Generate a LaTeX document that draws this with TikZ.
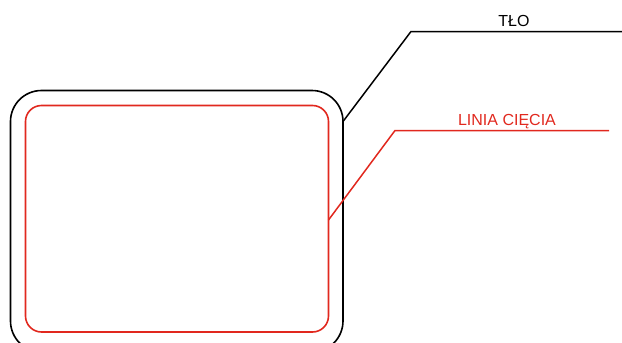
\documentclass[tikz,border=0pt]{standalone}
\usepackage{fontspec}
\setmainfont{Liberation Sans}
\definecolor{cutred}{RGB}{225,40,30}
\begin{document}
\begin{tikzpicture}[x=1pt,y=-1pt,
  outline/.style={draw=black,line width=1.6pt},
  cutline/.style={draw=cutred,line width=1.6pt},
  leaderblack/.style={draw=black,line width=1.5pt},
  leaderred/.style={draw=cutred,line width=1.5pt},
  lbl/.style={font=\fontsize{16}{19}\selectfont,inner sep=0pt,anchor=base}]
\useasboundingbox (0,0) rectangle (622,343);
\begin{scope}
\clip (0,0) rectangle (622,343);
\draw[outline,rounded corners=31pt] (10.5,90.5) rectangle (343,352);
\end{scope}
\draw[cutline,rounded corners=16pt] (25.5,105.5) rectangle (328.5,332);
% leaders
\coordinate (b0) at (343,121.5);
\coordinate (b1) at (411,31.5);
\coordinate (b2) at (622,31.5);
\coordinate (r0) at (328.5,220);
\coordinate (r1) at (395,130.5);
\coordinate (r2) at (609,130.5);
\draw[leaderblack] (b0) -- (b1) -- (b2);
\draw[leaderred] (r0) -- (r1) -- (r2);
\node[lbl] (tlo) at (514,26.5) {TŁO};
\node[lbl,text=cutred] (linia) at (507,125) {LINIA CIĘCIA};
\end{tikzpicture}
\end{document}
